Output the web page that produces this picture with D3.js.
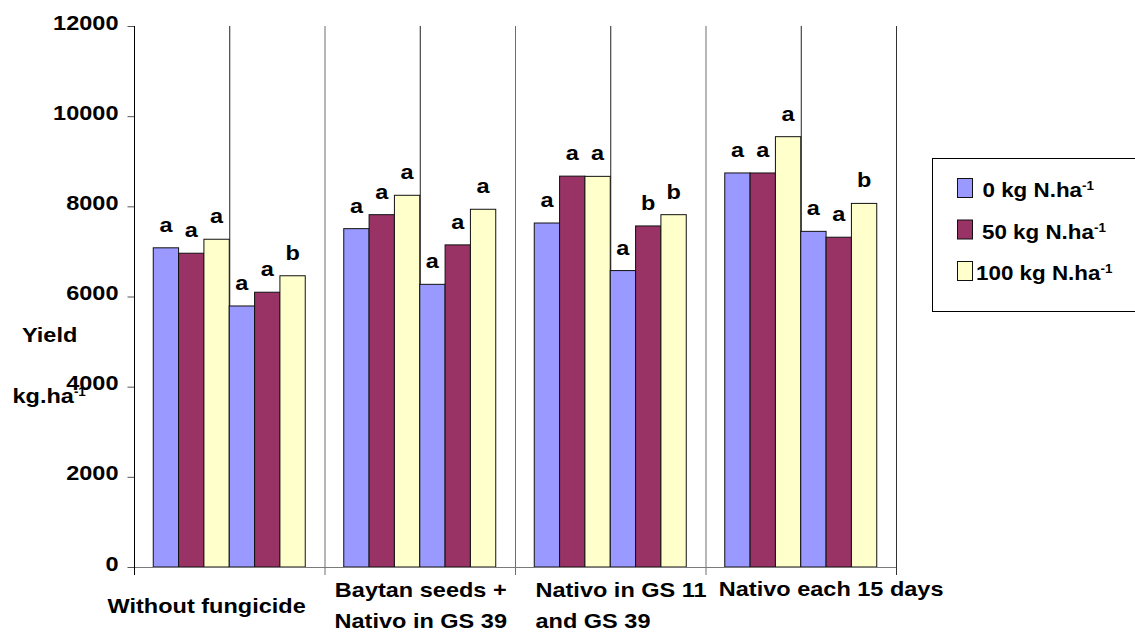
<!DOCTYPE html>
<html>
<head>
<meta charset="utf-8">
<script src="https://cdn.jsdelivr.net/npm/d3@7"></script>
<style>
  html, body { margin: 0; padding: 0; background: #fff; }
  svg { display: block; font-family: "Liberation Sans", Arial, sans-serif; font-weight: bold; }
</style>
</head>
<body>
<svg id="chart" width="1135" height="632"></svg>
<script>
// ---------- data ----------
const categories = ["Without fungicide", "Baytan seeds + Nativo in GS 39", "Nativo in GS 11 and GS 39", "Nativo each 15 days"];
const categoryLines = [["Without fungicide"], ["Baytan seeds +", "Nativo in GS 39"], ["Nativo in GS 11", "and GS 39"], ["Nativo each 15 days"]];
const trials = ["Trial 1", "Trial 2"];
const seriesNames = ["0 kg N.ha", "50 kg N.ha", "100 kg N.ha"];
// values ordered: [cat1 trial1, cat1 trial2, cat2 trial1, cat2 trial2, ...]
const yieldN0   = [7080, 5790, 7505, 6270, 7630, 6575, 8740, 7445];
const yieldN50  = [6960, 6095, 7815, 7145, 8670, 7565, 8740, 7315];
const yieldN100 = [7270, 6460, 8245, 7935, 8665, 7815, 9545, 8065];
const lettersN0   = ["a", "a", "a", "a", "a", "a", "a", "a"];
const lettersN50  = ["a", "a", "a", "a", "a", "b", "a", "a"];
const lettersN100 = ["a", "b", "a", "a", "a", "b", "a", "b"];
const yTicks = [0, 2000, 4000, 6000, 8000, 10000, 12000];

// ---------- style ----------
const colors = ["#9999FF", "#993366", "#FFFFCC"];
const SX = 1.12; // horizontal text stretch
const svg = d3.select("#chart");

const plot = { left: 134, right: 896, top: 26, bottom: 567 };
const y = d3.scaleLinear().domain([0, 12000]).range([plot.bottom, plot.top]);
const xCat = d3.scaleBand().domain(categories).range([plot.left, plot.right]).padding(0);
const bw = xCat.bandwidth();
const slotKeys = [];
trials.forEach(t => seriesNames.forEach(s => slotKeys.push(t + "|" + s)));
const xSlot = d3.scaleBand().domain(slotKeys).range([0, bw]).paddingInner(0).paddingOuter(0.76);

const seriesVals = [yieldN0, yieldN50, yieldN100];
const seriesLetters = [lettersN0, lettersN50, lettersN100];
const bars = [];
categories.forEach((c, ci) => {
  trials.forEach((t, ti) => {
    seriesNames.forEach((s, si) => {
      const idx = ci * trials.length + ti;
      bars.push({ cat: c, key: t + "|" + s, si, v: seriesVals[si][idx], letter: seriesLetters[si][idx] });
    });
  });
});

function stretchedText(g, x, yy, str, size, anchor) {
  return g.append("text")
    .attr("transform", `translate(${x},${yy}) scale(${SX},1)`)
    .attr("font-size", size)
    .attr("text-anchor", anchor || "start")
    .attr("fill", "#000")
    .text(str);
}

// ---------- vertical grid lines ----------
const grid = svg.append("g");
categories.forEach((c, i) => {
  if (i > 0) {
    grid.append("line")
      .attr("x1", xCat(c) + 0.5).attr("x2", xCat(c) + 0.5)
      .attr("y1", plot.top).attr("y2", plot.bottom + 8)
      .attr("stroke", "#6e6e6e").attr("stroke-width", 1);
  }
  grid.append("line")
    .attr("x1", xCat(c) + bw / 2 + 0.5).attr("x2", xCat(c) + bw / 2 + 0.5)
    .attr("y1", plot.top).attr("y2", plot.bottom)
    .attr("stroke", "#222").attr("stroke-width", 1);
});
grid.append("line")
  .attr("x1", plot.right + 0.5).attr("x2", plot.right + 0.5)
  .attr("y1", plot.top).attr("y2", plot.bottom + 8)
  .attr("stroke", "#333").attr("stroke-width", 1);

// ---------- bars ----------
svg.append("g").selectAll("rect").data(bars).join("rect")
  .attr("x", d => xCat(d.cat) + xSlot(d.key))
  .attr("y", d => y(d.v))
  .attr("width", xSlot.bandwidth())
  .attr("height", d => y(0) - y(d.v))
  .attr("fill", d => colors[d.si])
  .attr("stroke", "#111")
  .attr("stroke-width", 1);

// ---------- letters ----------
const lg = svg.append("g");
bars.forEach(d => {
  stretchedText(lg, xCat(d.cat) + xSlot(d.key) + xSlot.bandwidth() / 2, y(d.v) - 16, d.letter, 21, "middle");
});

// ---------- x axis ----------
svg.append("line")
  .attr("x1", plot.left - 6).attr("x2", plot.right)
  .attr("y1", plot.bottom + 0.5).attr("y2", plot.bottom + 0.5)
  .attr("stroke", "#7a7a7a").attr("stroke-width", 1);

// ---------- y axis ----------
const yAxis = d3.axisLeft(y).tickValues(yTicks).tickSize(7).tickSizeOuter(0).tickPadding(7.3).tickFormat(d3.format("d"));
const yg = svg.append("g").attr("transform", `translate(${plot.left + 0.5},0)`).call(yAxis);
yg.select(".domain").remove();
yg.selectAll(".tick line").attr("stroke", "#555");
yg.selectAll(".tick text")
  .attr("font-size", 21).attr("font-family", null).attr("fill", "#000")
  .attr("dy", 3)
  .attr("transform", `scale(${SX},1)`)
  .attr("x", -14.3);
svg.append("line")
  .attr("x1", plot.left + 0.5).attr("x2", plot.left + 0.5)
  .attr("y1", plot.top).attr("y2", plot.bottom + 8)
  .attr("stroke", "#000").attr("stroke-width", 1);

// ---------- category labels ----------
const labelLayout = [
  { anchor: "start", dx: -26.5, base: [613] },
  { anchor: "middle", dx: bw / 2 + 1, base: [597, 628] },
  { anchor: "start", dx: 20.5, base: [597, 628] },
  { anchor: "start", dx: 13.3, base: [596] }
];
const cl = svg.append("g");
categoryLines.forEach((lines, i) => {
  const L = labelLayout[i];
  lines.forEach((ln, j) => stretchedText(cl, xCat(categories[i]) + L.dx, L.base[j], ln, 21, L.anchor));
});

// ---------- y title ----------
const yt = svg.append("g");
stretchedText(yt, 22, 342, "Yield", 21);
const kg = stretchedText(yt, 12.5, 403, "kg.ha", 21);
kg.append("tspan").attr("font-size", 12).attr("dy", -7).text("-1");

// ---------- legend ----------
const leg = svg.append("g");
leg.append("rect")
  .attr("x", 932.5).attr("y", 158.5).attr("width", 220).attr("height", 153)
  .attr("fill", "#fff").attr("stroke", "#000").attr("stroke-width", 1);
const legBase = [197, 238.5, 280];
const legTextX = [982.5, 982, 976];
seriesNames.forEach((s, i) => {
  leg.append("rect")
    .attr("x", 957.5).attr("y", legBase[i] - 18.5).attr("width", 15).attr("height", 19)
    .attr("fill", colors[i]).attr("stroke", "#111").attr("stroke-width", 1);
  const t = stretchedText(leg, legTextX[i], legBase[i], s, 20);
  t.append("tspan").attr("font-size", 12).attr("dy", -7).text("-1");
});
</script>
</body>
</html>
